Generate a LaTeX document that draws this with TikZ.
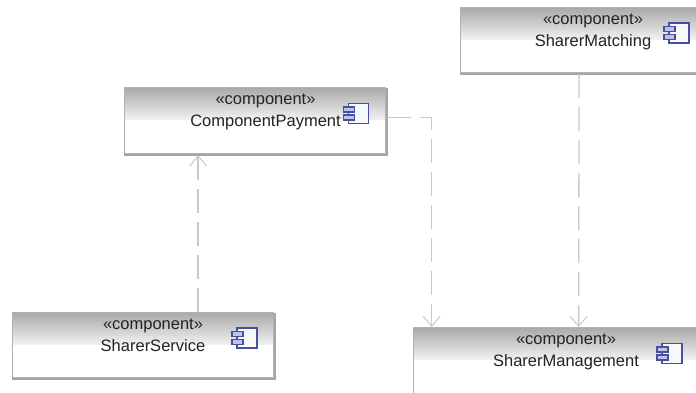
\documentclass[tikz,border=0pt]{standalone}
\usepackage{fontspec}
\setmainfont{Liberation Sans}
\usetikzlibrary{arrows.meta}
\definecolor{boxedge}{RGB}{178,178,178}
\definecolor{gradtop}{RGB}{170,170,170}
\definecolor{gradbot}{RGB}{240,240,240}
\definecolor{shadowedge}{RGB}{165,165,165}
\definecolor{linkgray}{RGB}{200,200,200}
\definecolor{iconblue}{RGB}{70,80,160}
\definecolor{iconfill}{RGB}{248,249,253}
\definecolor{icontab}{RGB}{190,195,230}
\definecolor{labelgray}{RGB}{35,35,35}
\tikzset{
  x=1pt,y=-1pt,
  compbox/.style={draw=boxedge,line width=1.2pt,fill=white,anchor=north west,inner sep=0pt,
    path picture={\foreach \i in {0,...,31}{
        \pgfmathtruncatemacro{\pc}{100-\i*100/31}
        \fill[gradtop!\pc!gradbot]
          ([yshift=-\i pt]path picture bounding box.north west) rectangle
          ([yshift=-\i pt-1.2pt]path picture bounding box.north east);}}},
  complabel/.style={align=center,text=labelgray,font=\fontsize{16.5}{22}\selectfont,inner sep=0pt,anchor=north},
  boxshadow/.style={draw=shadowedge,line width=2.2pt},
  deplink/.style={draw=linkgray,line width=1.3pt,dash pattern=on 24pt off 9pt,
    -{Straight Barb[length=10pt,width=17pt,line width=1pt]}},
  iconbody/.style={draw=iconblue,line width=1.1pt,fill=iconfill},
  icontabbox/.style={draw=iconblue,line width=1.1pt,fill=icontab},
}
\newcommand{\compicon}[2]{%
  \begin{scope}[shift={(#1,#2)}]
    \draw[iconbody] (5,0) rectangle (25,20);
    \draw[iconblue,line width=1.8pt] (25,0) -- (25,20) -- (5,20);
    \draw[icontabbox] (0,3.5) rectangle (11,8.5);
    \draw[icontabbox] (0,11.5) rectangle (11,16.5);
  \end{scope}}
\begin{document}
\begin{tikzpicture}
\useasboundingbox (0,0) rectangle (696,393);
\clip (0,0) rectangle (696,393);
\fill[white] (0,0) rectangle (696,393);

% ComponentPayment
\node[compbox,minimum width=261pt,minimum height=66pt] (pay) at (124,87) {};
\draw[boxshadow] ([xshift=.5pt,yshift=-1pt]pay.north east) -- ([xshift=.5pt,yshift=-.5pt]pay.south east) -- ([yshift=-.5pt]pay.south west);
\node[complabel] (paytext) at (265.5,94) {«component»\\ComponentPayment};
\compicon{343.5}{103.5}

% SharerService
\node[compbox,minimum width=261pt,minimum height=65pt] (svc) at (12,312) {};
\draw[boxshadow] ([xshift=.5pt,yshift=-1pt]svc.north east) -- ([xshift=.5pt,yshift=-.5pt]svc.south east) -- ([yshift=-.5pt]svc.south west);
\node[complabel] (svctext) at (153,319) {«component»\\SharerService};
\compicon{232}{328}

% SharerMatching
\node[compbox,minimum width=263pt,minimum height=65pt] (match) at (460,7) {};
\draw[boxshadow] ([yshift=-.5pt]match.south east) -- ([yshift=-.5pt]match.south west);
\node[complabel] (matchtext) at (593,14) {«component»\\SharerMatching};
\compicon{664}{23}

% SharerManagement
\node[compbox,minimum width=304pt,minimum height=90pt] (mgmt) at (413,327) {};
\node[complabel] (mgmttext) at (566,334) {«component»\\SharerManagement};
\compicon{657}{343.5}

\draw[deplink] ([xshift=55pt]svc.north) -- ([xshift=-57pt,yshift=-1pt]pay.south);
\draw[deplink] ([yshift=3pt,xshift=1pt]pay.east) -| ([xshift=-134pt]mgmt.north);
\draw[deplink] ([xshift=-13pt,yshift=-1pt]match.south) -- ([xshift=13pt]mgmt.north);
\end{tikzpicture}
\end{document}
